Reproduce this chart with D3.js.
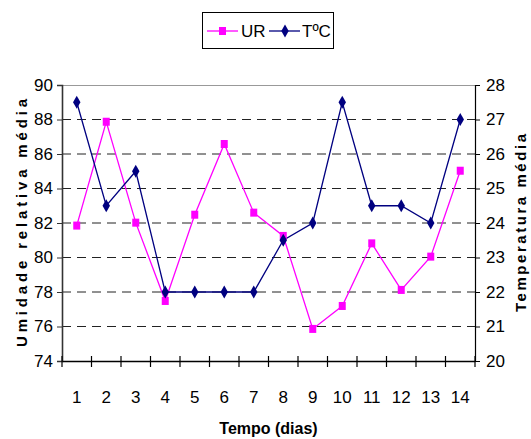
<!DOCTYPE html>
<html><head><meta charset="utf-8">
<script src="https://cdn.jsdelivr.net/npm/d3@7"></script>
<style>
body{margin:0;background:#fff;}
text{font-family:"Liberation Sans Narrow","Arial Narrow","Liberation Sans",Arial,sans-serif;}
</style></head>
<body><svg id="c" width="531" height="439"></svg>
<script>
const days = [1,2,3,4,5,6,7,8,9,10,11,12,13,14];
const urValues = [81.85,87.87,82.02,77.48,82.48,86.58,82.6,81.25,75.86,77.19,80.82,78.12,80.05,85.03];
const tempValues = [27.5,24.5,25.5,22,22,22,22,23.5,24,27.5,24.5,24.5,24,27];
const leftTicks = [74,76,78,80,82,84,86,88,90];
const rightTicks = [20,21,22,23,24,25,26,27,28];
const seriesNames = ["UR","T\u00baC"];
const xTitle = "Tempo (dias)";
const yLeftTitle = "Umidade relativa média";
const yRightTitle = "Temperatura média";

const svg = d3.select("#c");
const L = 62, R = 475, T = 85, B = 361;
const x = d3.scaleBand().domain(days).range([L, R]);
const yL = d3.scaleLinear().domain([74, 90]).range([B, T]);
const yR = d3.scaleLinear().domain([20, 28]).range([B, T]);
const cx = d => x(d) + x.bandwidth()/2;

// gridlines
svg.append("g").selectAll("line").data(leftTicks.filter(v => v > 74 && v < 90)).join("line")
  .attr("x1", L).attr("x2", R).attr("y1", d => yL(d)).attr("y2", d => yL(d))
  .attr("stroke", "#222").attr("stroke-width", 1).attr("stroke-dasharray", "9,6");
// top border
svg.append("line").attr("x1", L).attr("x2", R).attr("y1", T+0.5).attr("y2", T+0.5)
  .attr("stroke", "#999").attr("stroke-width", 1.2);

const fs = "17px";
// left axis
const gl = svg.append("g").attr("transform", `translate(${L},0)`)
  .call(d3.axisLeft(yL).tickValues(leftTicks).tickSize(5).tickPadding(4).tickFormat(d3.format("d")));
gl.select(".domain").attr("stroke", "#333").attr("stroke-width", 1.6);
gl.selectAll(".tick line").attr("stroke", "#333");
gl.selectAll("text").attr("font-size", fs).attr("fill", "#000");
// right axis
const gr = svg.append("g").attr("transform", `translate(${R},0)`)
  .call(d3.axisRight(yR).tickValues(rightTicks).tickSize(5).tickPadding(6).tickFormat(d3.format("d")));
gr.select(".domain").attr("stroke", "#000").attr("stroke-width", 1.2);
gr.selectAll("text").attr("font-size", fs).attr("fill", "#000");
// x axis
const gx = svg.append("g").attr("transform", `translate(0,${B})`)
  .call(d3.axisBottom(x).tickSize(0).tickPadding(30));
gx.select(".domain").attr("stroke", "#000").attr("stroke-width", 1.6);
gx.selectAll(".tick line").remove();
gx.selectAll("text").attr("font-size", fs).attr("fill", "#000");
// x cross ticks at band boundaries
const bounds = days.map(d => x(d)).concat([R]);
svg.append("g").selectAll("line").data(bounds).join("line")
  .attr("x1", d => d).attr("x2", d => d).attr("y1", B-5).attr("y2", B+6)
  .attr("stroke", "#000").attr("stroke-width", 1.2);

// lines
const lineUR = d3.line().x((d,i) => cx(days[i])).y(d => yL(d));
const lineT = d3.line().x((d,i) => cx(days[i])).y(d => yR(d));
svg.append("path").attr("d", lineUR(urValues)).attr("fill", "none").attr("stroke", "#FF00FF").attr("stroke-width", 1.3);
svg.append("path").attr("d", lineT(tempValues)).attr("fill", "none").attr("stroke", "#000080").attr("stroke-width", 1.3);
svg.append("g").selectAll("rect").data(urValues).join("rect")
  .attr("x", (d,i) => cx(days[i]) - 3.5).attr("y", d => yL(d) - 4).attr("width", 7).attr("height", 8)
  .attr("fill", "#FF00FF");
const dia = d3.symbol().type(d3.symbolDiamond).size(48);
svg.append("g").selectAll("path").data(tempValues).join("path")
  .attr("d", dia).attr("transform", (d,i) => `translate(${cx(days[i])},${yR(d)})`)
  .attr("fill", "#000080");

// titles
svg.append("text").attr("x", (L+R)/2).attr("y", 434).attr("text-anchor", "middle")
  .attr("font-size", "16px").attr("font-weight", "bold").text(xTitle);
svg.append("text").attr("transform", `translate(27,${(T+B)/2}) rotate(-90)`).attr("text-anchor", "middle")
  .attr("font-size", "15px").attr("font-weight", "bold")
  .attr("textLength", 248).attr("lengthAdjust", "spacing").text(yLeftTitle);
svg.append("text").attr("transform", `translate(526,${(T+B)/2}) rotate(-90)`).attr("text-anchor", "middle")
  .attr("font-size", "15px").attr("font-weight", "bold")
  .attr("textLength", 178).attr("lengthAdjust", "spacing").text(yRightTitle);

// legend
const lg = svg.append("g");
lg.append("rect").attr("x", 202.5).attr("y", 12.5).attr("width", 131).attr("height", 36)
  .attr("fill", "#fff").attr("stroke", "#000").attr("stroke-width", 1);
lg.append("line").attr("x1", 207).attr("x2", 238).attr("y1", 31).attr("y2", 31).attr("stroke", "#FF00FF").attr("stroke-width", 1.3);
lg.append("rect").attr("x", 219).attr("y", 27).attr("width", 7).attr("height", 8).attr("fill", "#FF00FF");
lg.append("text").attr("x", 241).attr("y", 37).attr("font-size", fs).text(seriesNames[0]);
lg.append("line").attr("x1", 269).attr("x2", 300).attr("y1", 31).attr("y2", 31).attr("stroke", "#000080").attr("stroke-width", 1.3);
lg.append("path").attr("d", dia).attr("transform", "translate(285,31)").attr("fill", "#000080");
lg.append("text").attr("x", 302).attr("y", 37).attr("font-size", fs).text(seriesNames[1]);
</script></body></html>
